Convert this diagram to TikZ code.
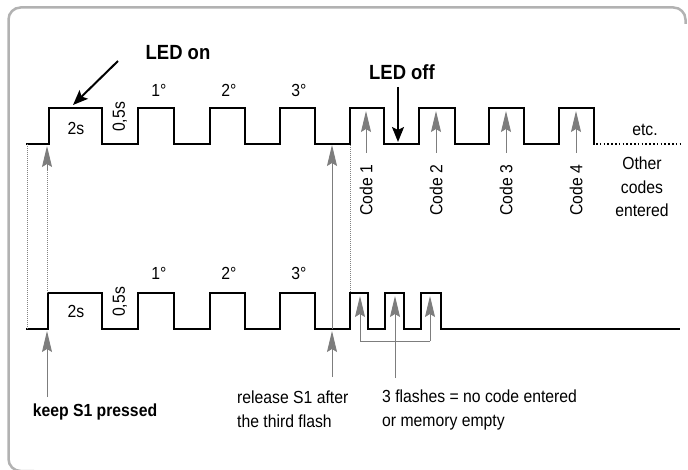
\documentclass[tikz,border=0pt]{standalone}
\usepackage{fontspec}
\setmainfont[FakeStretch=0.9]{Liberation Sans}
\usetikzlibrary{arrows.meta}
\definecolor{arrgray}{RGB}{125,125,125}
\definecolor{framegray}{RGB}{178,178,178}
\definecolor{dotgray}{RGB}{130,130,130}
\begin{document}
\begin{tikzpicture}[x=1pt,y=-1pt,
  wave/.style={line width=2pt, line join=miter, line cap=rect},
  garrow/.style={draw=arrgray, line width=0.9pt, -{Stealth[length=21pt,width=10pt,inset=3pt,fill=arrgray]}},
  gline/.style={draw=arrgray, line width=0.9pt},
  gdot/.style={draw=dotgray, line width=1pt, dash pattern=on 1pt off 1pt},
  barrow/.style={draw=black, line width=2pt, -{Stealth[length=15pt,width=12pt,inset=3pt]}},
  lbl/.style={font=\fontsize{17.5}{23}\selectfont, inner sep=0pt, text=black},
  blbl/.style={font=\fontsize{20.5}{22}\selectfont\bfseries, inner sep=0pt},
  bslbl/.style={font=\fontsize{17.5}{23}\selectfont\bfseries, inner sep=0pt},
  mlbl/.style={font=\fontsize{17.5}{23.5}\selectfont, inner sep=0pt, align=left},
  clbl/.style={font=\fontsize{17.5}{23.5}\selectfont, inner sep=0pt, align=center}
]
\useasboundingbox (0,0) rectangle (688,470);
% frame
\draw[framegray, line width=2.5pt, rounded corners=12pt]
  (34,471) -- (8.5,471) -- (8.5,7.5) -- (685.5,7.5) -- (685.5,24);

% top waveform
\draw[wave] (27,144) -- (49,144) -- (49,108) -- (102,108) -- (102,144) -- (138,144) -- (138,108) -- (174,108) -- (174,144) -- (210,144) -- (210,108) -- (245,108) -- (245,144) -- (280,144) -- (280,108) -- (315,108) -- (315,144) -- (350,144) -- (350,108) -- (384,108) -- (384,144) -- (419,144) -- (419,108) -- (455,108) -- (455,144) -- (489,144) -- (489,108) -- (524,108) -- (524,144) -- (559,144) -- (559,108) -- (594,108) -- (594,144);
\draw[line width=1.6pt, dash pattern=on 1.6pt off 2.2pt] (596,144) -- (680,144);

% bottom waveform
\draw[wave] (27,329) -- (48,329) -- (48,293) -- (102,293) -- (102,329) -- (138,329) -- (138,293) -- (174,293) -- (174,329) -- (210,329) -- (210,293) -- (245,293) -- (245,329) -- (280,329) -- (280,293) -- (315,293) -- (315,329) -- (350,329) -- (350,293) -- (368,293) -- (368,329) -- (385,329) -- (385,293) -- (404,293) -- (404,329) -- (421,329) -- (421,293) -- (441,293) -- (441,329) -- (679,329);

% coordinates
\coordinate (tl) at (27,144);
\coordinate (bl) at (27,329);
\coordinate (tr) at (350,145);
\coordinate (br) at (350,293);
\coordinate (pt) at (47,146);
\coordinate (pm) at (47,166);
\coordinate (pb) at (47,293);
\coordinate (rt) at (332,145);
\coordinate (rb) at (332,329);
\coordinate (kt) at (47,331);
\coordinate (kb) at (47,397);
\coordinate (st) at (332,331);
\coordinate (sb) at (332,377);

% dotted guides
\draw[gdot] (tl) -- (bl);
\draw[gdot] (tr) -- (br);
\draw[gdot] (pb) -- (pm);
\draw[garrow] (47,170) -- (pt);
\draw[garrow] (rb) -- (rt);
\draw[garrow] (kb) -- (kt);
\draw[garrow] (sb) -- (st);

% code arrows
\foreach \x/\n in {366/1,436/2,506/3,576/4}{
  \coordinate (c\n t) at (\x,111);
  \coordinate (c\n b) at (\x,153);
  \draw[garrow] (c\n b) -- (c\n t);
  \node[lbl, rotate=90] (code\n) at (\x,190) {Code \n};
}

% flash arrows and bracket
\coordinate (f1t) at (360,296);
\coordinate (f1b) at (360,341);
\coordinate (f2t) at (395,296);
\coordinate (f2b) at (395,378);
\coordinate (f3t) at (430,296);
\coordinate (f3b) at (430,341);
\draw[gline] (f1b) -- (f3b);
\draw[garrow] (f1b) -- (f1t);
\draw[garrow] (f2b) -- (f2t);
\draw[garrow] (f3b) -- (f3t);

% LED labels and arrows
\node[blbl] (ledon) at (178,53) {LED on};
\coordinate (onA) at (118,61);
\coordinate (onB) at (73,105);
\draw[barrow] (onA) -- (onB);
\node[blbl] (ledoff) at (402,72) {LED off};
\coordinate (offA) at (398,87);
\coordinate (offB) at (398,142);
\draw[barrow] (offA) -- (offB);

% top labels
\node[lbl] (t2s) at (76,128) {2s};
\node[lbl, rotate=90] (t05) at (120,117) {0,5s};
\node[lbl] (t1) at (159,90) {1°};
\node[lbl] (t2) at (229,90) {2°};
\node[lbl] (t3) at (299,90) {3°};
\node[lbl] (etc) at (645,130) {etc.};
\node[clbl] (other) at (642,187) {Other\\codes\\entered};

% bottom labels
\node[lbl] (b2s) at (76,311) {2s};
\node[lbl, rotate=90] (b05) at (120,302) {0,5s};
\node[lbl] (b1) at (159,273) {1°};
\node[lbl] (b2) at (229,273) {2°};
\node[lbl] (b3) at (299,273) {3°};

\node[bslbl] (keep) at (95,412) {keep S1 pressed};
\node[mlbl, anchor=west] (release) at (237,409) {release S1 after\\the third flash};
\node[mlbl, anchor=west] (flashes) at (382,410) {3 flashes = no code entered\\or memory empty};
\end{tikzpicture}
\end{document}
